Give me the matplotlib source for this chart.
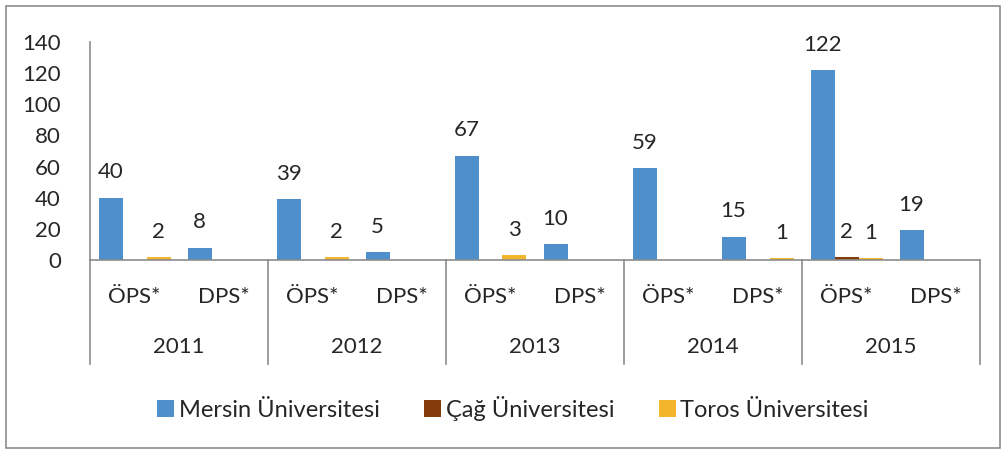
import matplotlib
matplotlib.use("Agg")
import matplotlib.pyplot as plt
import matplotlib.patches as patches
import numpy as np

plt.rcParams['font.family'] = ['Lato', 'DejaVu Sans']

years = ["2011", "2012", "2013", "2014", "2015"]
exams = ["ÖPS*", "DPS*"]
series = ["Mersin Üniversitesi", "Çağ Üniversitesi", "Toros Üniversitesi"]
mersin = [40, 8, 39, 5, 67, 10, 59, 15, 122, 19]
cag = [0, 0, 0, 0, 0, 0, 0, 0, 2, 0]
toros = [2, 0, 2, 0, 3, 0, 0, 1, 1, 0]
colors = ["#4F8FCB", "#843C0C", "#F2B52C"]
txt = "#262626"

W, H = 1006, 453
fig = plt.figure(figsize=(W / 100, H / 100), dpi=100)
fig.patches.append(patches.Rectangle((6 / W, 5 / H), 994 / W, 442 / H, transform=fig.transFigure,
                                     fill=False, edgecolor="#8c8c8c", linewidth=1.2))
ax = fig.add_axes([90 / W, (453 - 260) / H, 890 / W, 218 / H])

n = len(mersin)
centers = np.arange(n) + 0.5
bw = 24 / 89
for k, vals in enumerate([mersin, cag, toros]):
    xs = centers + (k - 1) * bw
    ax.bar(xs, vals, width=bw, color=colors[k], label=series[k])
    for x, v in zip(xs, vals):
        if v:
            ax.annotate(str(v), (x, v), xytext=(0, 11), textcoords="offset points",
                        ha="center", va="bottom", fontsize=16, color=txt)

ax.set_xlim(0, n)
ax.set_ylim(0, 140)
ax.set_yticks(range(0, 141, 20))
ax.tick_params(axis="y", length=0, labelsize=16, pad=21, colors=txt)
ax.set_xticks([])
for s in ["top", "right"]:
    ax.spines[s].set_visible(False)
ax.spines["left"].set_color("#8c8c8c")
ax.spines["bottom"].set_color("#8c8c8c")
ax.spines["left"].set_linewidth(1.2)
ax.spines["bottom"].set_linewidth(1.2)

# multi-level category axis
tr = ax.get_xaxis_transform()
for i in range(n):
    ax.text(centers[i], -0.17, exams[i % 2], transform=tr, ha="center", va="center",
            fontsize=16, color=txt)
for j, y in enumerate(years):
    ax.text(2 * j + 1, -0.40, y, transform=tr, ha="center", va="center",
            fontsize=16, color=txt)
for j in range(len(years) + 1):
    ax.plot([2 * j, 2 * j], [0, -0.475], transform=tr, color="#8c8c8c", lw=1.2, clip_on=False)

fig.legend(loc="center", bbox_to_anchor=(0.51, 0.099), ncol=3, frameon=False, fontsize=17,
           handlelength=0.7, handleheight=0.7, handletextpad=0.2, columnspacing=1.9,
           labelcolor=txt)

fig.savefig("out.png", dpi=100)
